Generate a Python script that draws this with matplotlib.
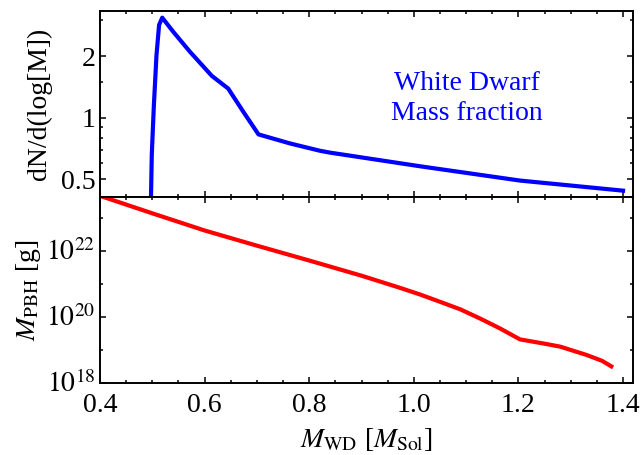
import numpy as np
import matplotlib
matplotlib.use('Agg')
import matplotlib.pyplot as plt
from matplotlib.ticker import FixedLocator, NullFormatter, MultipleLocator
from matplotlib.transforms import ScaledTranslation

plt.rcParams['font.family'] = ['Liberation Serif', 'DejaVu Serif']
plt.rcParams['mathtext.fontset'] = 'stix'
plt.rcParams['font.size'] = 20

# white dwarf mass distribution dN/d(log M)
wd_mass = [0.497, 0.4975, 0.499, 0.503, 0.508, 0.513, 0.519, 0.540, 0.572, 0.614,
           0.645, 0.674, 0.703, 0.763, 0.821, 0.840, 1.012, 1.203, 1.404]
wd_frac = [0.30, 0.41, 0.66, 1.15, 2.02, 2.84, 3.08, 2.63, 2.10, 1.60,
           1.39, 1.07, 0.83, 0.75, 0.69, 0.676, 0.58, 0.494, 0.44]

# PBH mass (log10 of grams) vs white dwarf mass
pbh_x = [0.4, 0.5, 0.6, 0.7, 0.8, 0.9, 0.974, 1.012, 1.05, 1.089, 1.127, 1.165,
         1.203, 1.25, 1.28, 1.33, 1.36, 1.381]
pbh_log = [23.68, 23.15, 22.63, 22.17, 21.72, 21.26, 20.89, 20.69, 20.47, 20.24, 19.96, 19.66,
           19.33, 19.2, 19.11, 18.86, 18.68, 18.48]

fig, (ax1, ax2) = plt.subplots(2, 1, sharex=True, figsize=(6.41, 4.55), dpi=100)
fig.subplots_adjust(left=0.156, right=0.9875, top=0.9758, bottom=0.1576, hspace=0)

ax1.plot(wd_mass, wd_frac, color='#0000ff', lw=3, solid_capstyle='butt')
ax1.set_yscale('log')
ax1.set_ylim(0.41, 3.32)
ax1.yaxis.set_major_locator(FixedLocator([0.5, 1, 2]))
ax1.set_yticklabels(['0.5', '1', '2'])
ax1.yaxis.set_minor_locator(FixedLocator([0.6, 0.7, 0.8, 0.9, 1.5, 3]))
ax1.yaxis.set_minor_formatter(NullFormatter())
ax1.set_ylabel('dN/d(log[M])', labelpad=6)
ax1.text(1.102, 0.53, 'White Dwarf\nMass fraction', color='#0000ff', fontsize=20,
         ha='center', va='center', linespacing=1.3,
         transform=ax1.get_xaxis_transform())

ax2.plot(pbh_x, 10.0 ** np.array(pbh_log), color='#ff0000', lw=3, solid_capstyle='butt')
ax2.set_yscale('log')
ax2.set_ylim(1e18, 10 ** 23.64)
ax2.yaxis.set_major_locator(FixedLocator([1e18, 1e20, 1e22]))
ax2.set_yticklabels([r'$10^{18}$', r'$10^{20}$', r'$10^{22}$'])
ax2.yaxis.set_minor_locator(FixedLocator([1e19, 1e21, 1e23]))
ax2.yaxis.set_minor_formatter(NullFormatter())
ax2.set_ylabel(r'$M_{\mathrm{PBH}}$ [g]', labelpad=2)

ax2.set_xlim(0.4, 1.419)
ax2.xaxis.set_major_locator(FixedLocator([0.4, 0.6, 0.8, 1.0, 1.2, 1.4]))
ax2.set_xticklabels(['0.4', '0.6', '0.8', '1.0', '1.2', '1.4'])
ax2.xaxis.set_minor_locator(MultipleLocator(0.05))
ax2.set_xlabel(r'$M_{\mathrm{WD}}$ [$M_{\mathrm{Sol}}$]', labelpad=6)

for ax in (ax1, ax2):
    ax.tick_params(which='both', direction='in', top=True, right=True, width=1.1)
    ax.tick_params(which='major', length=4)
    ax.tick_params(which='minor', length=2.2)
    for s in ax.spines.values():
        s.set_linewidth(1.4)
ax2.tick_params(axis='x', pad=7)

# put the "10" of each power label on its tick, exponent sticking up
shift = ScaledTranslation(0, -6.5 / 72, fig.dpi_scale_trans)
for lbl in ax2.get_yticklabels():
    lbl.set_va('baseline')
    lbl.set_transform(lbl.get_transform() + shift)

plt.savefig('out.png', dpi=100)
